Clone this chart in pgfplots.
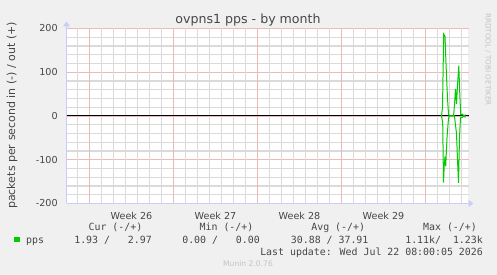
\documentclass[border=0pt]{standalone}
\usepackage{fontspec}
\setmainfont{DejaVu Sans}
\newfontfamily\mono{DejaVu Sans Mono}
\usepackage{pgfplots}
\pgfplotsset{compat=1.18}
\usetikzlibrary{arrows.meta}
\definecolor{bg}{RGB}{240,240,240}
\definecolor{mgrid}{RGB}{236,185,185}
\definecolor{sgrid}{RGB}{218,218,218}
\definecolor{axisc}{RGB}{200,205,250}
\definecolor{ppsgreen}{RGB}{0,204,0}
\definecolor{txt}{RGB}{70,70,70}
\definecolor{faint}{RGB}{195,195,195}
\begin{document}
\begin{tikzpicture}
\fill[bg] (0bp,0bp) rectangle (497bp,275bp);
\fill[white] (66.5bp,71.5bp) rectangle (468bp,246.5bp);
\begin{axis}[
  at={(66.5bp,71.5bp)}, anchor=south west,
  scale only axis, width=402bp, height=175bp,
  xmin=66, xmax=468, ymin=-200, ymax=200,
  axis lines=left,
  axis line style={draw=axisc, line width=0.8bp},
  x axis line style={-{Triangle[width=7bp,length=5bp]}, shorten >=-5bp},
  y axis line style={-{Triangle[width=7bp,length=5bp]}, shorten >=-7bp},
  xtick={131,215,299,383},
  xticklabels={Week 26,Week 27,Week 28,Week 29},
  ytick={-200,-100,0,100,200},
  yticklabels={-200,-100,0,100,200},
  tick style={draw=none},
  minor ytick={-180,-160,-140,-120,-80,-60,-40,-20,20,40,60,80,120,140,160,180},
  yminorgrids, ymajorgrids,
  minor grid style={draw=sgrid, line width=1.1bp},
  major grid style={draw=mgrid, line width=1.1bp},
  tick label style={font=\fontsize{9.6bp}{11bp}\selectfont, text=txt},
  yticklabel style={anchor=east, inner sep=0pt, xshift=-6.5bp},
  xticklabel style={anchor=north, inner sep=0pt, yshift=-6bp},
  clip=false,
]
\pgfplotsinvokeforeach{77,101,113,125,137,149,161,185,197,209,221,233,245,269,281,293,305,317,329,353,365,377,389,401,413,437,449,461}{
  \draw[sgrid, line width=1.1bp] (axis cs:#1,0) -- (axis cs:#1,200);
  \draw[sgrid, line width=1.1bp] (axis cs:#1,-200) -- (axis cs:#1,0);}
\pgfplotsinvokeforeach{89,173,257,341,425}{
  \draw[mgrid, line width=1.1bp] (axis cs:#1,0) -- (axis cs:#1,200);
  \draw[mgrid, line width=1.1bp] (axis cs:#1,-200) -- (axis cs:#1,0);}
\draw[black, line width=1bp] (axis cs:66,0) -- (axis cs:468,0);
\addplot[ppsgreen, line width=1bp] coordinates {
(441,0) (442,20) (443.2,187) (444.5,182) (445.5,120) (447,40) (448,5) (449,0)
(453,0) (454,25) (455,62) (456,28) (457,70) (458.3,115) (459.3,50) (460.2,3)
(462,4) (463.5,0) (465,3)};
\addplot[ppsgreen, line width=1bp] coordinates {
(441,0) (442.2,-15) (443,-152) (443.8,-110) (444.5,-93) (445.2,-115) (446.5,-50)
(448,-5) (449,0) (454,0) (455,-21) (456,-40) (457,-100) (458,-153) (459,-50)
(460,-3) (462,-3) (463.5,0) (465,-3)};
\end{axis}
\node[anchor=base, font=\fontsize{12.6bp}{14bp}\selectfont, text=txt] at (248bp,251.5bp) {ovpns1 pps - by month};
\node[rotate=90, font=\fontsize{11bp}{13bp}\selectfont, text=txt] at (12bp,159.5bp) {packets per second in (-) / out (+)};
\node[rotate=-90, anchor=west, inner sep=0pt, font=\fontsize{7.2bp}{9bp}\selectfont, text=faint] at (488bp,262bp) {RRDTOOL / TOBI OETIKER};
\begin{scope}[every node/.style={inner sep=0pt, font=\mono\fontsize{9.9bp}{12bp}\selectfont, text=txt}]
\node[anchor=base east] at (142.5bp,44.3bp) {Cur (-/+)};
\node[anchor=base east] at (253.5bp,44.3bp) {Min (-/+)};
\node[anchor=base east] at (365.2bp,44.3bp) {Avg (-/+)};
\node[anchor=base east] at (477bp,44.3bp) {Max (-/+)};
\fill[ppsgreen] (14bp,33bp) rectangle (19.5bp,38bp);
\node[anchor=base west] at (26bp,31.7bp) {pps};
\node[anchor=base east] at (152bp,31.7bp) {1.93 /\ \ \ 2.97};
\node[anchor=base east] at (260bp,31.7bp) {0.00 /\ \ \ 0.00};
\node[anchor=base east] at (368.6bp,31.7bp) {30.88 / 37.91};
\node[anchor=base east] at (483bp,31.7bp) {1.11k/\ \ 1.23k};
\node[anchor=base east] at (483bp,19.7bp) {Last update: Wed Jul 22 08:00:05 2026};
\end{scope}
\node[anchor=base, inner sep=0pt, font=\fontsize{7.6bp}{9bp}\selectfont, text=faint] at (248bp,8.3bp) {Munin 2.0.76};
\pgfresetboundingbox
\useasboundingbox (0bp,0bp) rectangle (497bp,275bp);
\end{tikzpicture}
\end{document}
